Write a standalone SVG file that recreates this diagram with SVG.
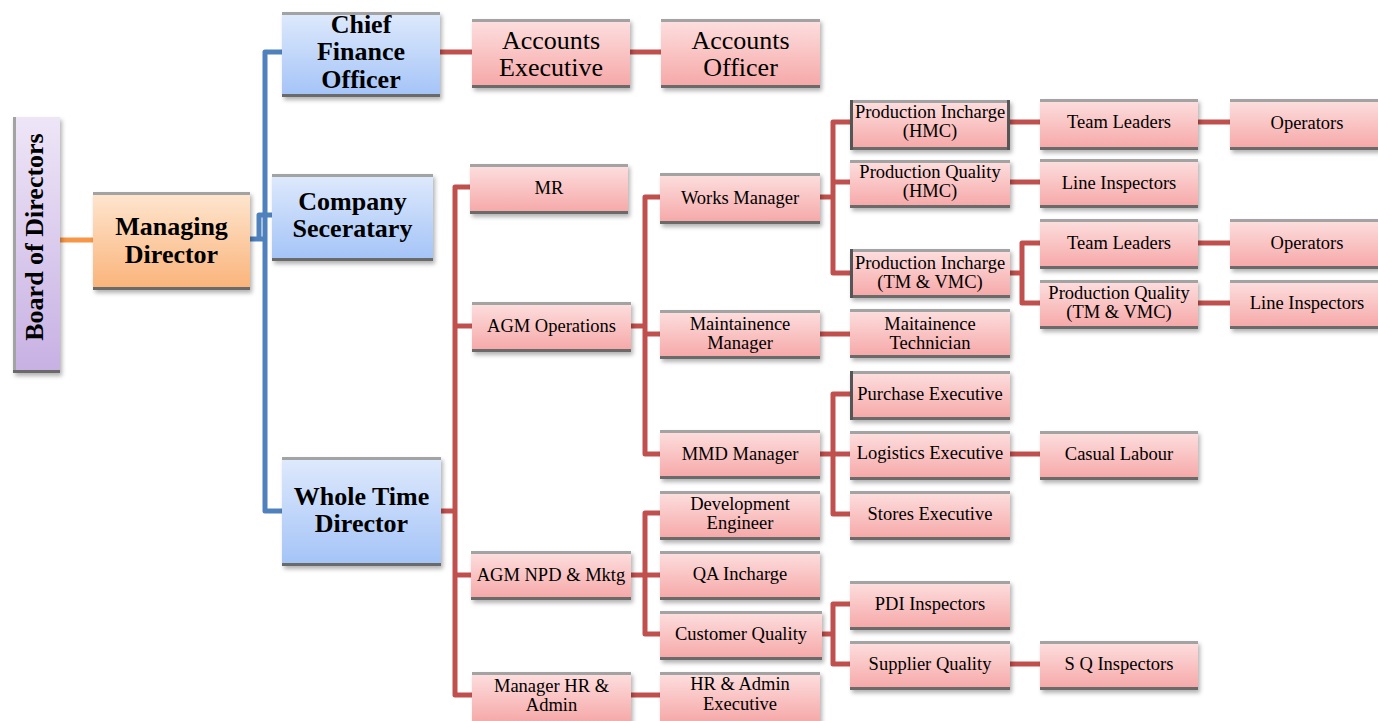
<svg xmlns="http://www.w3.org/2000/svg" width="1378" height="721" viewBox="0 0 1378 721">
<defs>
<linearGradient id="gPink" x1="0" y1="0" x2="0" y2="1"><stop offset="0" stop-color="#fde0e0"/><stop offset="1" stop-color="#f6a6a6"/></linearGradient>
<linearGradient id="gBlue" x1="0" y1="0" x2="0" y2="1"><stop offset="0" stop-color="#dfeafc"/><stop offset="1" stop-color="#a3c3f7"/></linearGradient>
<linearGradient id="gOrange" x1="0" y1="0" x2="0" y2="1"><stop offset="0" stop-color="#fee6d0"/><stop offset="1" stop-color="#fab379"/></linearGradient>
<linearGradient id="gPurple" x1="0" y1="0" x2="0" y2="1"><stop offset="0" stop-color="#eee6f7"/><stop offset="1" stop-color="#c7b0e3"/></linearGradient>
<filter id="sh" x="-10%" y="-10%" width="125%" height="135%"><feDropShadow dx="2" dy="3" stdDeviation="2" flood-color="#000" flood-opacity="0.3"/></filter>
</defs>
<style>
.pk{fill:url(#gPink);filter:url(#sh)}
.bl{fill:url(#gBlue);filter:url(#sh)}
.or{fill:url(#gOrange);filter:url(#sh)}
.pu{fill:url(#gPurple);filter:url(#sh)}
.tp{stroke:#a3a3a3;stroke-width:3;fill:none}
.bt{stroke:#6a6a6a;stroke-width:3;fill:none}
.sd{stroke:#555;stroke-width:3;fill:none}
text{font-family:"Liberation Serif","Times New Roman",serif;fill:#000;text-anchor:middle}
.s{font-size:18.5px}
.l{font-size:26px}
.b{font-size:26px;font-weight:bold}
.red{stroke:#c0504d;stroke-width:5;fill:none;stroke-linejoin:round}
.blue{stroke:#4f81bd;stroke-width:5;fill:none;stroke-linejoin:round}
.orange{stroke:#f79646;stroke-width:5;fill:none}
</style>
<rect width="1378" height="721" fill="#fff"/>
<g id="connectors">
<path class="orange" d="M60,240 H93"/>
<path class="blue" d="M250,239 H265"/>
<path class="blue" d="M282,52 H265 V511 H282"/>
<path class="blue" d="M259,239 V215 H272"/>
<path class="red" d="M440,52 H472"/>
<path class="red" d="M630,52 H661"/>
<path class="red" d="M441,511 H455"/>
<path class="red" d="M470,187 H455 V695 H472"/>
<path class="red" d="M455,326 H472"/>
<path class="red" d="M455,575 H471"/>
<path class="red" d="M631,326 H645"/>
<path class="red" d="M660,197 H645 V454 H660"/>
<path class="red" d="M645,334 H660"/>
<path class="red" d="M631,575 H660"/>
<path class="red" d="M660,513 H645 V634 H660"/>
<path class="red" d="M631,695 H660"/>
<path class="red" d="M820,197 H833"/>
<path class="red" d="M850,122 H833 V273 H850"/>
<path class="red" d="M833,182 H850"/>
<path class="red" d="M820,334 H850"/>
<path class="red" d="M820,454 H850"/>
<path class="red" d="M850,394 H833 V514 H850"/>
<path class="red" d="M822,634 H833"/>
<path class="red" d="M850,604 H833 V664 H850"/>
<path class="red" d="M1010,122 H1040"/>
<path class="red" d="M1198,122 H1230"/>
<path class="red" d="M1010,182 H1040"/>
<path class="red" d="M1010,273 H1022"/>
<path class="red" d="M1040,243 H1022 V303 H1040"/>
<path class="red" d="M1198,243 H1230"/>
<path class="red" d="M1198,303 H1230"/>
<path class="red" d="M1010,454 H1040"/>
<path class="red" d="M1010,664 H1040"/>
</g>
<g id="board-of-directors">
<rect class="pu" x="13" y="117" width="47" height="256"/>
<path class="tp" d="M14.5,117 V373"/><path class="bt" d="M13,371.5 H60"/>
<text class="b" transform="translate(43,237) rotate(-90)">Board of Directors</text>
</g>
<g id="managing-director">
<rect class="or" x="93" y="192" width="157" height="98"/>
<path class="tp" d="M93,193.5 H250"/><path class="bt" d="M93,288.5 H250"/>
<text class="b" x="171.5" y="235">Managing</text><text class="b" x="171.5" y="263">Director</text>
</g>
<g id="chief-finance-officer">
<rect class="bl" x="282" y="12" width="158" height="85"/>
<path class="tp" d="M282,13.5 H440"/><path class="bt" d="M282,95.5 H440"/>
<text class="b" x="361" y="33">Chief</text><text class="b" x="361" y="60">Finance</text><text class="b" x="361" y="88">Officer</text>
</g>
<g id="company-secretary">
<rect class="bl" x="272" y="174" width="161" height="87"/>
<path class="tp" d="M272,175.5 H433"/><path class="bt" d="M272,259.5 H433"/>
<text class="b" x="352.5" y="210">Company</text><text class="b" x="352.5" y="237">Seceratary</text>
</g>
<g id="whole-time-director">
<rect class="bl" x="282" y="457" width="159" height="109"/>
<path class="tp" d="M282,458.5 H441"/><path class="bt" d="M282,564.5 H441"/>
<text class="b" x="361.5" y="505">Whole Time</text><text class="b" x="361.5" y="532">Director</text>
</g>
<g id="accounts-executive">
<rect class="pk" x="472" y="19" width="158" height="69"/>
<path class="tp" d="M472,20.5 H630"/><path class="bt" d="M472,86.5 H630"/>
<text class="l" x="551" y="49">Accounts</text><text class="l" x="551" y="76">Executive</text>
</g>
<g id="accounts-officer">
<rect class="pk" x="661" y="19" width="159" height="69"/>
<path class="tp" d="M661,20.5 H820"/><path class="bt" d="M661,86.5 H820"/>
<text class="l" x="740.5" y="49">Accounts</text><text class="l" x="740.5" y="76">Officer</text>
</g>
<g id="mr">
<rect class="pk" x="470" y="164" width="158" height="50"/>
<path class="tp" d="M470,165.5 H628"/><path class="bt" d="M470,212.5 H628"/>
<text class="s" x="549" y="194">MR</text>
</g>
<g id="agm-operations">
<rect class="pk" x="472" y="302" width="159" height="50"/>
<path class="tp" d="M472,303.5 H631"/><path class="bt" d="M472,350.5 H631"/>
<text class="s" x="551.5" y="332">AGM Operations</text>
</g>
<g id="agm-npd-mktg">
<rect class="pk" x="471" y="551" width="160" height="49"/>
<path class="tp" d="M471,552.5 H631"/><path class="bt" d="M471,598.5 H631"/>
<text class="s" x="551" y="581">AGM NPD &amp; Mktg</text>
</g>
<g id="manager-hr-admin">
<rect class="pk" x="472" y="672" width="159" height="52"/>
<path class="tp" d="M472,673.5 H631"/>
<text class="s" x="551.5" y="692">Manager HR &amp;</text><text class="s" x="551.5" y="711">Admin</text>
</g>
<g id="works-manager">
<rect class="pk" x="660" y="173" width="160" height="51"/>
<path class="tp" d="M660,174.5 H820"/><path class="bt" d="M660,222.5 H820"/>
<text class="s" x="740" y="204">Works Manager</text>
</g>
<g id="maintainence-manager">
<rect class="pk" x="660" y="310" width="160" height="49"/>
<path class="tp" d="M660,311.5 H820"/><path class="bt" d="M660,357.5 H820"/>
<text class="s" x="740" y="330">Maintainence</text><text class="s" x="740" y="349">Manager</text>
</g>
<g id="mmd-manager">
<rect class="pk" x="660" y="430" width="160" height="49"/>
<path class="tp" d="M660,431.5 H820"/><path class="bt" d="M660,477.5 H820"/>
<text class="s" x="740" y="460">MMD Manager</text>
</g>
<g id="development-engineer">
<rect class="pk" x="660" y="491" width="160" height="49"/>
<path class="tp" d="M660,492.5 H820"/><path class="bt" d="M660,538.5 H820"/>
<text class="s" x="740" y="510">Development</text><text class="s" x="740" y="529">Engineer</text>
</g>
<g id="qa-incharge">
<rect class="pk" x="660" y="551" width="160" height="49"/>
<path class="tp" d="M660,552.5 H820"/><path class="bt" d="M660,598.5 H820"/>
<text class="s" x="740" y="580">QA Incharge</text>
</g>
<g id="customer-quality">
<rect class="pk" x="660" y="611" width="162" height="49"/>
<path class="tp" d="M660,612.5 H822"/><path class="bt" d="M660,658.5 H822"/>
<text class="s" x="741" y="640">Customer Quality</text>
</g>
<g id="hr-admin-executive">
<rect class="pk" x="660" y="672" width="160" height="52"/>
<path class="tp" d="M660,673.5 H820"/>
<text class="s" x="740" y="690">HR &amp; Admin</text><text class="s" x="740" y="710">Executive</text>
</g>
<g id="production-incharge-hmc">
<rect class="pk" x="850" y="100" width="160" height="50"/>
<path class="tp" d="M850,101.5 H1010"/><path class="bt" d="M850,148.5 H1010"/>
<path class="sd" d="M851.5,100 V150 M1008.5,100 V150"/>
<text class="s" x="930" y="118">Production Incharge</text><text class="s" x="930" y="137">(HMC)</text>
</g>
<g id="production-quality-hmc">
<rect class="pk" x="850" y="160" width="160" height="48"/>
<path class="tp" d="M850,161.5 H1010"/><path class="bt" d="M850,206.5 H1010"/>
<text class="s" x="930" y="178">Production Quality</text><text class="s" x="930" y="197">(HMC)</text>
</g>
<g id="production-incharge-tm-vmc">
<rect class="pk" x="850" y="249" width="160" height="49"/>
<path class="tp" d="M850,250.5 H1010"/><path class="bt" d="M850,296.5 H1010"/>
<path class="sd" d="M851.5,249 V298"/>
<text class="s" x="930" y="269">Production Incharge</text><text class="s" x="930" y="288">(TM &amp; VMC)</text>
</g>
<g id="maitainence-technician">
<rect class="pk" x="850" y="309" width="160" height="49"/>
<path class="tp" d="M850,310.5 H1010"/><path class="bt" d="M850,356.5 H1010"/>
<text class="s" x="930" y="330">Maitainence</text><text class="s" x="930" y="349">Technician</text>
</g>
<g id="purchase-executive">
<rect class="pk" x="850" y="371" width="160" height="49"/>
<path class="tp" d="M850,372.5 H1010"/><path class="bt" d="M850,418.5 H1010"/>
<path class="sd" d="M851.5,371 V420"/>
<text class="s" x="930" y="400">Purchase Executive</text>
</g>
<g id="logistics-executive">
<rect class="pk" x="850" y="431" width="160" height="49"/>
<path class="tp" d="M850,432.5 H1010"/><path class="bt" d="M850,478.5 H1010"/>
<text class="s" x="930" y="459">Logistics Executive</text>
</g>
<g id="stores-executive">
<rect class="pk" x="850" y="491" width="160" height="49"/>
<path class="tp" d="M850,492.5 H1010"/><path class="bt" d="M850,538.5 H1010"/>
<text class="s" x="930" y="520">Stores Executive</text>
</g>
<g id="pdi-inspectors">
<rect class="pk" x="850" y="581" width="160" height="49"/>
<path class="tp" d="M850,582.5 H1010"/><path class="bt" d="M850,628.5 H1010"/>
<text class="s" x="930" y="610">PDI Inspectors</text>
</g>
<g id="supplier-quality">
<rect class="pk" x="850" y="641" width="160" height="49"/>
<path class="tp" d="M850,642.5 H1010"/><path class="bt" d="M850,688.5 H1010"/>
<text class="s" x="930" y="670">Supplier Quality</text>
</g>
<g id="team-leaders-1">
<rect class="pk" x="1040" y="99" width="158" height="51"/>
<path class="tp" d="M1040,100.5 H1198"/><path class="bt" d="M1040,148.5 H1198"/>
<text class="s" x="1119" y="128">Team Leaders</text>
</g>
<g id="line-inspectors-1">
<rect class="pk" x="1040" y="159" width="158" height="49"/>
<path class="tp" d="M1040,160.5 H1198"/><path class="bt" d="M1040,206.5 H1198"/>
<text class="s" x="1119" y="189">Line Inspectors</text>
</g>
<g id="team-leaders-2">
<rect class="pk" x="1040" y="219" width="158" height="50"/>
<path class="tp" d="M1040,220.5 H1198"/><path class="bt" d="M1040,267.5 H1198"/>
<text class="s" x="1119" y="249">Team Leaders</text>
</g>
<g id="production-quality-tm-vmc">
<rect class="pk" x="1040" y="280" width="158" height="49"/>
<path class="tp" d="M1040,281.5 H1198"/><path class="bt" d="M1040,327.5 H1198"/>
<text class="s" x="1119" y="299">Production Quality</text><text class="s" x="1119" y="318">(TM &amp; VMC)</text>
</g>
<g id="casual-labour">
<rect class="pk" x="1040" y="431" width="158" height="49"/>
<path class="tp" d="M1040,432.5 H1198"/><path class="bt" d="M1040,478.5 H1198"/>
<text class="s" x="1119" y="460">Casual Labour</text>
</g>
<g id="sq-inspectors">
<rect class="pk" x="1040" y="641" width="158" height="49"/>
<path class="tp" d="M1040,642.5 H1198"/><path class="bt" d="M1040,688.5 H1198"/>
<text class="s" x="1119" y="670">S Q Inspectors</text>
</g>
<g id="operators-1">
<rect class="pk" x="1230" y="99" width="150" height="51"/>
<path class="tp" d="M1230,100.5 H1378"/><path class="bt" d="M1230,148.5 H1378"/>
<text class="s" x="1307" y="129">Operators</text>
</g>
<g id="operators-2">
<rect class="pk" x="1230" y="219" width="150" height="50"/>
<path class="tp" d="M1230,220.5 H1378"/><path class="bt" d="M1230,267.5 H1378"/>
<text class="s" x="1307" y="249">Operators</text>
</g>
<g id="line-inspectors-2">
<rect class="pk" x="1230" y="280" width="150" height="49"/>
<path class="tp" d="M1230,281.5 H1378"/><path class="bt" d="M1230,327.5 H1378"/>
<text class="s" x="1307" y="309">Line Inspectors</text>
</g>
</svg>
